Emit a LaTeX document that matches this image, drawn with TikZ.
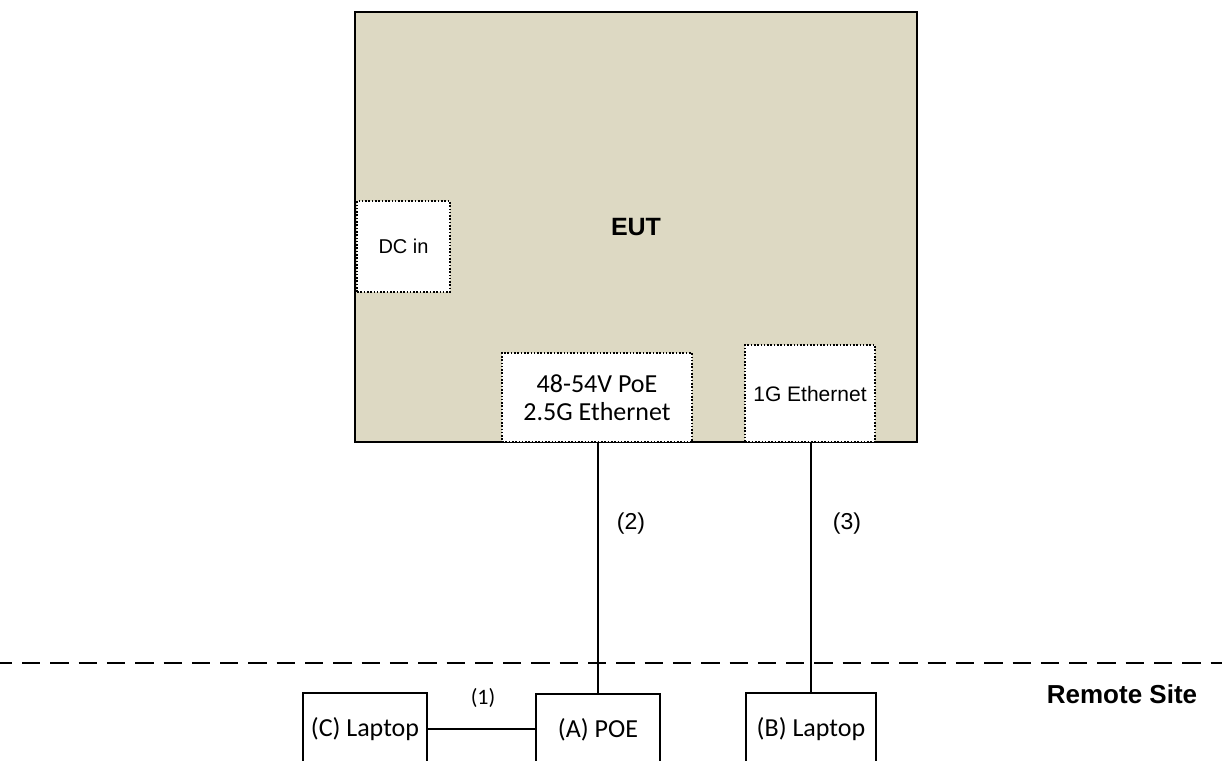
\documentclass[tikz,border=0pt]{standalone}
\usepackage{fontspec}
\setmainfont{Liberation Sans}
\newfontfamily\calib{Carlito}
\definecolor{eutfill}{RGB}{221,217,195}
\begin{document}
\begin{tikzpicture}[x=1pt,y=-1pt,
  eutbox/.style={draw=black, line width=2.2pt, fill=eutfill, inner sep=0pt,
    minimum width=562pt, minimum height=430pt, font=\fontsize{25}{30}\selectfont\bfseries},
  portbox/.style={draw=black, line width=1.8pt, dash pattern=on 1.6pt off 1.7pt, fill=white, inner sep=0pt},
  devbox/.style={draw=black, line width=2pt, fill=white, inner sep=0pt, minimum height=72pt,
    font=\calib\fontsize{26}{31}\selectfont},
  wire/.style={draw=black, line width=2pt},
  cablelbl/.style={font=\fontsize{23}{27}\selectfont, inner sep=0pt},
]
\useasboundingbox (0,0) rectangle (1222,760);
\clip (0,0) rectangle (1222,760);
\fill[white] (0,0) rectangle (1222,760);

\node[eutbox] (eut) at (636,227.25) {EUT};

\node[portbox, minimum width=93pt, minimum height=91pt, font=\fontsize{20}{24}\selectfont] (dc) at (403.5,246.5) {DC in};
\node[portbox, minimum width=190pt, minimum height=89pt, align=center,
  font=\calib\fontsize{26}{28}\selectfont] (poe) at (597,397.5) {48-54V PoE\\2.5G Ethernet};
\node[portbox, minimum width=130pt, minimum height=97pt, font=\fontsize{21}{25}\selectfont] (g1) at (810,393.5) {\raisebox{-3.5pt}{1G Ethernet}};

\draw[black, line width=2.5pt, dash pattern=on 18.3pt off 10pt, dash phase=6.3pt] (0,663) coordinate (dl) -- (1222,663) coordinate (dr);

\node[devbox, minimum width=124pt] (c) at (365,729) {(C) Laptop};
\node[devbox, minimum width=124pt] (a) at (598,730) {(A) POE};
\node[devbox, minimum width=130pt] (b) at (811,729) {(B) Laptop};

\draw[wire] (a.north) -- (a.north |- poe.south);
\draw[wire] (b.north) -- (b.north |- g1.south);
\draw[wire] (c.east) -- (c.east -| a.west);

\node[cablelbl] (l2) at (631,524) {(2)};
\node[cablelbl] (l3) at (847,524) {(3)};
\node[font=\calib\fontsize{22}{26}\selectfont, inner sep=0pt] (l1) at (483,698) {(1)};

\node[font=\fontsize{26}{30}\selectfont\bfseries, inner sep=0pt] (rs) at (1122,694) {Remote Site};
\end{tikzpicture}
\end{document}
